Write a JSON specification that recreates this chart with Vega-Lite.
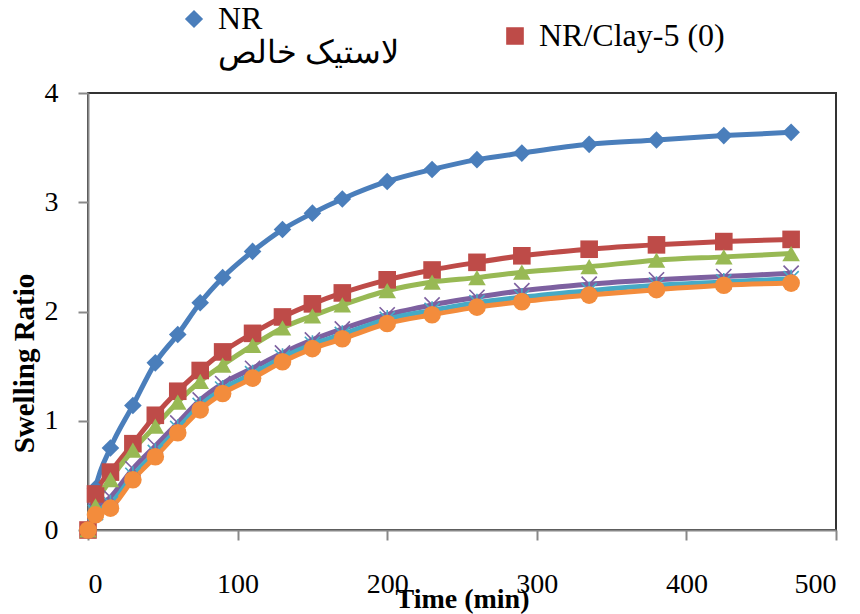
{
  "$schema": "https://vega.github.io/schema/vega-lite/v6.json",
  "width": 748,
  "height": 437,
  "autosize": {"type": "none"},
  "padding": {"left": 88, "top": 93, "right": 24, "bottom": 84},
  "background": "white",
  "config": {
    "view": {"stroke": "#333333", "strokeWidth": 2},
    "font": "Liberation Serif",
    "axis": {"labelFont": "Liberation Serif", "titleFont": "Liberation Serif"},
    "legend": {"labelFont": "Liberation Serif"}
  },
  "datasets": {
    "swell": [
      {"s":"NR","t":0,"v":0},{"s":"NR","t":5,"v":0.38},{"s":"NR","t":15,"v":0.75},{"s":"NR","t":30,"v":1.14},{"s":"NR","t":45,"v":1.53},{"s":"NR","t":60,"v":1.79},{"s":"NR","t":75,"v":2.08},{"s":"NR","t":90,"v":2.31},{"s":"NR","t":110,"v":2.55},{"s":"NR","t":130,"v":2.75},{"s":"NR","t":150,"v":2.9},{"s":"NR","t":170,"v":3.03},{"s":"NR","t":200,"v":3.19},{"s":"NR","t":230,"v":3.3},{"s":"NR","t":260,"v":3.39},{"s":"NR","t":290,"v":3.45},{"s":"NR","t":335,"v":3.53},{"s":"NR","t":380,"v":3.57},{"s":"NR","t":425,"v":3.61},{"s":"NR","t":470,"v":3.64},
      {"s":"NR/Clay-5 (0)","t":0,"v":0},{"s":"NR/Clay-5 (0)","t":5,"v":0.33},{"s":"NR/Clay-5 (0)","t":15,"v":0.53},{"s":"NR/Clay-5 (0)","t":30,"v":0.79},{"s":"NR/Clay-5 (0)","t":45,"v":1.05},{"s":"NR/Clay-5 (0)","t":60,"v":1.27},{"s":"NR/Clay-5 (0)","t":75,"v":1.46},{"s":"NR/Clay-5 (0)","t":90,"v":1.63},{"s":"NR/Clay-5 (0)","t":110,"v":1.8},{"s":"NR/Clay-5 (0)","t":130,"v":1.95},{"s":"NR/Clay-5 (0)","t":150,"v":2.07},{"s":"NR/Clay-5 (0)","t":170,"v":2.17},{"s":"NR/Clay-5 (0)","t":200,"v":2.29},{"s":"NR/Clay-5 (0)","t":230,"v":2.38},{"s":"NR/Clay-5 (0)","t":260,"v":2.45},{"s":"NR/Clay-5 (0)","t":290,"v":2.51},{"s":"NR/Clay-5 (0)","t":335,"v":2.57},{"s":"NR/Clay-5 (0)","t":380,"v":2.61},{"s":"NR/Clay-5 (0)","t":425,"v":2.64},{"s":"NR/Clay-5 (0)","t":470,"v":2.66},
      {"s":"NR/Clay-5 (1)","t":0,"v":0},{"s":"NR/Clay-5 (1)","t":5,"v":0.22},{"s":"NR/Clay-5 (1)","t":15,"v":0.46},{"s":"NR/Clay-5 (1)","t":30,"v":0.73},{"s":"NR/Clay-5 (1)","t":45,"v":0.95},{"s":"NR/Clay-5 (1)","t":60,"v":1.17},{"s":"NR/Clay-5 (1)","t":75,"v":1.36},{"s":"NR/Clay-5 (1)","t":90,"v":1.51},{"s":"NR/Clay-5 (1)","t":110,"v":1.69},{"s":"NR/Clay-5 (1)","t":130,"v":1.85},{"s":"NR/Clay-5 (1)","t":150,"v":1.96},{"s":"NR/Clay-5 (1)","t":170,"v":2.06},{"s":"NR/Clay-5 (1)","t":200,"v":2.19},{"s":"NR/Clay-5 (1)","t":230,"v":2.27},{"s":"NR/Clay-5 (1)","t":260,"v":2.31},{"s":"NR/Clay-5 (1)","t":290,"v":2.36},{"s":"NR/Clay-5 (1)","t":335,"v":2.41},{"s":"NR/Clay-5 (1)","t":380,"v":2.47},{"s":"NR/Clay-5 (1)","t":425,"v":2.5},{"s":"NR/Clay-5 (1)","t":470,"v":2.53},
      {"s":"NR/Clay-5 (2)","t":0,"v":0},{"s":"NR/Clay-5 (2)","t":5,"v":0.18},{"s":"NR/Clay-5 (2)","t":15,"v":0.3},{"s":"NR/Clay-5 (2)","t":30,"v":0.56},{"s":"NR/Clay-5 (2)","t":45,"v":0.77},{"s":"NR/Clay-5 (2)","t":60,"v":0.98},{"s":"NR/Clay-5 (2)","t":75,"v":1.19},{"s":"NR/Clay-5 (2)","t":90,"v":1.34},{"s":"NR/Clay-5 (2)","t":110,"v":1.48},{"s":"NR/Clay-5 (2)","t":130,"v":1.62},{"s":"NR/Clay-5 (2)","t":150,"v":1.74},{"s":"NR/Clay-5 (2)","t":170,"v":1.84},{"s":"NR/Clay-5 (2)","t":200,"v":1.97},{"s":"NR/Clay-5 (2)","t":230,"v":2.06},{"s":"NR/Clay-5 (2)","t":260,"v":2.13},{"s":"NR/Clay-5 (2)","t":290,"v":2.19},{"s":"NR/Clay-5 (2)","t":335,"v":2.25},{"s":"NR/Clay-5 (2)","t":380,"v":2.29},{"s":"NR/Clay-5 (2)","t":425,"v":2.32},{"s":"NR/Clay-5 (2)","t":470,"v":2.35},
      {"s":"NR/Clay-5 (3)","t":0,"v":0},{"s":"NR/Clay-5 (3)","t":5,"v":0.16},{"s":"NR/Clay-5 (3)","t":15,"v":0.24},{"s":"NR/Clay-5 (3)","t":30,"v":0.5},{"s":"NR/Clay-5 (3)","t":45,"v":0.71},{"s":"NR/Clay-5 (3)","t":60,"v":0.93},{"s":"NR/Clay-5 (3)","t":75,"v":1.14},{"s":"NR/Clay-5 (3)","t":90,"v":1.29},{"s":"NR/Clay-5 (3)","t":110,"v":1.43},{"s":"NR/Clay-5 (3)","t":130,"v":1.58},{"s":"NR/Clay-5 (3)","t":150,"v":1.7},{"s":"NR/Clay-5 (3)","t":170,"v":1.79},{"s":"NR/Clay-5 (3)","t":200,"v":1.93},{"s":"NR/Clay-5 (3)","t":230,"v":2.01},{"s":"NR/Clay-5 (3)","t":260,"v":2.08},{"s":"NR/Clay-5 (3)","t":290,"v":2.13},{"s":"NR/Clay-5 (3)","t":335,"v":2.19},{"s":"NR/Clay-5 (3)","t":380,"v":2.24},{"s":"NR/Clay-5 (3)","t":425,"v":2.27},{"s":"NR/Clay-5 (3)","t":470,"v":2.3},
      {"s":"NR/Clay-5 (4)","t":0,"v":0},{"s":"NR/Clay-5 (4)","t":5,"v":0.14},{"s":"NR/Clay-5 (4)","t":15,"v":0.2},{"s":"NR/Clay-5 (4)","t":30,"v":0.46},{"s":"NR/Clay-5 (4)","t":45,"v":0.67},{"s":"NR/Clay-5 (4)","t":60,"v":0.89},{"s":"NR/Clay-5 (4)","t":75,"v":1.1},{"s":"NR/Clay-5 (4)","t":90,"v":1.25},{"s":"NR/Clay-5 (4)","t":110,"v":1.39},{"s":"NR/Clay-5 (4)","t":130,"v":1.54},{"s":"NR/Clay-5 (4)","t":150,"v":1.66},{"s":"NR/Clay-5 (4)","t":170,"v":1.75},{"s":"NR/Clay-5 (4)","t":200,"v":1.89},{"s":"NR/Clay-5 (4)","t":230,"v":1.97},{"s":"NR/Clay-5 (4)","t":260,"v":2.04},{"s":"NR/Clay-5 (4)","t":290,"v":2.09},{"s":"NR/Clay-5 (4)","t":335,"v":2.15},{"s":"NR/Clay-5 (4)","t":380,"v":2.2},{"s":"NR/Clay-5 (4)","t":425,"v":2.24},{"s":"NR/Clay-5 (4)","t":470,"v":2.26}
    ]
  },
  "data": {"name": "swell"},
  "encoding": {
    "x": {
      "field": "t", "type": "quantitative",
      "scale": {"domain": [0, 500], "nice": false},
      "axis": {
        "title": "Time (min)", "values": [0, 100, 200, 300, 400, 500], "grid": false,
        "labelFont": "Liberation Serif", "labelFontSize": 28, "labelColor": "#000", "labelPadding": 30,
        "tickSize": 10, "tickColor": "#888", "tickWidth": 2, "domainColor": "#888", "domainWidth": 2,
        "titleFont": "Liberation Serif", "titleFontSize": 28, "titleFontWeight": "bold", "titleColor": "#000",
        "titleBaseline": "top", "titleY": 55
      }
    },
    "y": {
      "field": "v", "type": "quantitative",
      "scale": {"domain": [0, 4], "nice": false},
      "axis": {
        "title": "Swelling Ratio", "values": [0, 1, 2, 3, 4], "grid": false,
        "labelFont": "Liberation Serif", "labelFontSize": 28, "labelColor": "#000", "labelPadding": 20,
        "tickSize": 10, "tickColor": "#888", "tickWidth": 2, "domainColor": "#888", "domainWidth": 2,
        "titleFont": "Liberation Serif", "titleFontSize": 29, "titleFontWeight": "bold", "titleColor": "#000",
        "titleBaseline": "middle", "titleX": -64, "titleY": 270, "titleAngle": -90
      }
    },
    "color": {
      "field": "s", "type": "nominal",
      "scale": {
        "domain": ["NR", "NR/Clay-5 (0)", "NR/Clay-5 (1)", "NR/Clay-5 (2)", "NR/Clay-5 (3)", "NR/Clay-5 (4)"],
        "range": ["#4A7EBB", "#BE4B48", "#98B954", "#7D60A0", "#46AAC5", "#F38C3C"]
      },
      "legend": {
        "values": ["NR", "NR/Clay-5 (0)"],
        "title": null, "orient": "none", "direction": "horizontal",
        "legendX": 90, "legendY": -90,
        "labelFont": "Liberation Serif", "labelFontSize": 32, "labelColor": "#000", "labelLimit": 400,
        "labelExpr": "datum.value == 'NR' ? ['NR', 'لاستیک خالص'] : datum.label",
        "symbolSize": 260, "columnPadding": 100, "labelOffset": 8
      }
    }
  },
  "layer": [
    {
      "mark": {"type": "line", "strokeWidth": 5, "interpolate": "monotone"},
      "encoding": {"detail": {"field": "s"}}
    },
    {
      "transform": [{"filter": "datum.s == 'NR/Clay-5 (2)' || datum.s == 'NR/Clay-5 (3)'"}],
      "mark": {"type": "point", "filled": false, "strokeWidth": 1.6, "size": 230, "opacity": 1},
      "encoding": {
        "shape": {
          "field": "s", "type": "nominal",
          "scale": {
            "domain": ["NR", "NR/Clay-5 (0)", "NR/Clay-5 (1)", "NR/Clay-5 (2)", "NR/Clay-5 (3)", "NR/Clay-5 (4)"],
            "range": ["diamond", "square", "triangle-up", "M-1,-1L1,1M-1,1L1,-1", "M-1,-1L1,1M-1,1L1,-1M0,-1.2L0,1.2", "circle"]
          }
        }
      }
    },
    {
      "transform": [{"filter": "datum.s != 'NR/Clay-5 (2)' && datum.s != 'NR/Clay-5 (3)'"}],
      "mark": {"type": "point", "filled": true, "size": 310, "opacity": 1},
      "encoding": {
        "shape": {"field": "s", "type": "nominal"}
      }
    }
  ]
}
